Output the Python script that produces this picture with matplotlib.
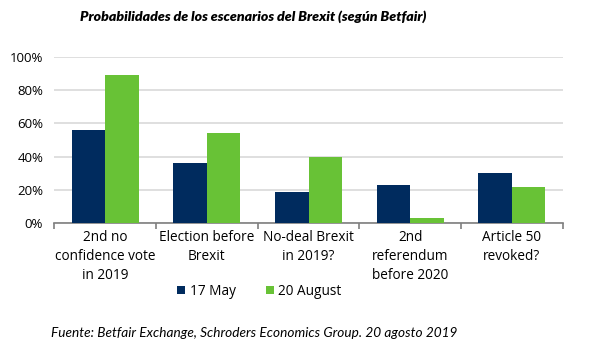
import matplotlib
matplotlib.use("Agg")
import matplotlib.pyplot as plt
import numpy as np
from matplotlib.ticker import PercentFormatter, FixedLocator

categories = ["2nd no\nconfidence vote\nin 2019", "Election before\nBrexit",
              "No-deal Brexit\nin 2019?", "2nd\nreferendum\nbefore 2020",
              "Article 50\nrevoked?"]
may = [56, 36, 19, 23, 30]
august = [89, 54, 40, 3, 22]
series_names = ["17 May", "20 August"]
yticks = [0, 20, 40, 60, 80, 100]

navy = "#002B5E"
green = "#68C236"
font = "Open Sans"

fig = plt.figure(figsize=(5.89, 3.5), dpi=100)
ax = fig.add_axes([0.0922, 0.362, 0.8632, 0.476])

x = np.arange(len(categories))
w = 0.33
ax.bar(x - w / 2, may, w, color=navy, label=series_names[0], zorder=3)
ax.bar(x + w / 2, august, w, color=green, label=series_names[1], zorder=3)

ax.set_xlim(-0.5, len(categories) - 0.5)
ax.set_ylim(0, 100)
ax.set_yticks(yticks)
ax.yaxis.set_major_formatter(PercentFormatter(decimals=0))
ax.grid(axis="y", color="#D9D9D9", linewidth=1.2, zorder=0)
for s in ["left", "right", "top"]:
    ax.spines[s].set_visible(False)
ax.spines["bottom"].set_color("#7F7F7F")
ax.spines["bottom"].set_linewidth(1.2)
ax.tick_params(axis="y", length=0, pad=8, labelsize=9.5, labelcolor="#000000")
for lab in ax.get_yticklabels():
    lab.set_fontfamily(font)

# category boundary ticks
ax.xaxis.set_major_locator(FixedLocator(np.arange(-0.5, len(categories), 1.0)))
ax.xaxis.set_major_formatter(plt.NullFormatter())
ax.tick_params(axis="x", which="major", length=4, color="#7F7F7F", width=1.2)
ax.set_xticks(x, minor=True)
ax.set_xticklabels(categories, minor=True, fontsize=9.8, fontfamily=font,
                   linespacing=1.35)
ax.tick_params(axis="x", which="minor", length=0, pad=5)

leg = fig.legend(loc="center", bbox_to_anchor=(0.44, 0.168), ncol=2, frameon=False,
                 prop={"family": font, "size": 9.8}, handlelength=0.6,
                 handleheight=0.6, handletextpad=0.3, columnspacing=2.2)

fig.text(0.43, 0.952, "Probabilidades de los escenarios del Brexit (según Betfair)",
         ha="center", va="center", fontsize=10.2, fontweight="heavy",
         fontstyle="italic", family="Lato")
fig.text(0.086, 0.048, "Fuente: Betfair Exchange, Schroders Economics Group. 20 agosto 2019",
         ha="left", va="center", fontsize=9.8, fontstyle="italic", family="Lato")

fig.savefig("out.png", dpi=100)
